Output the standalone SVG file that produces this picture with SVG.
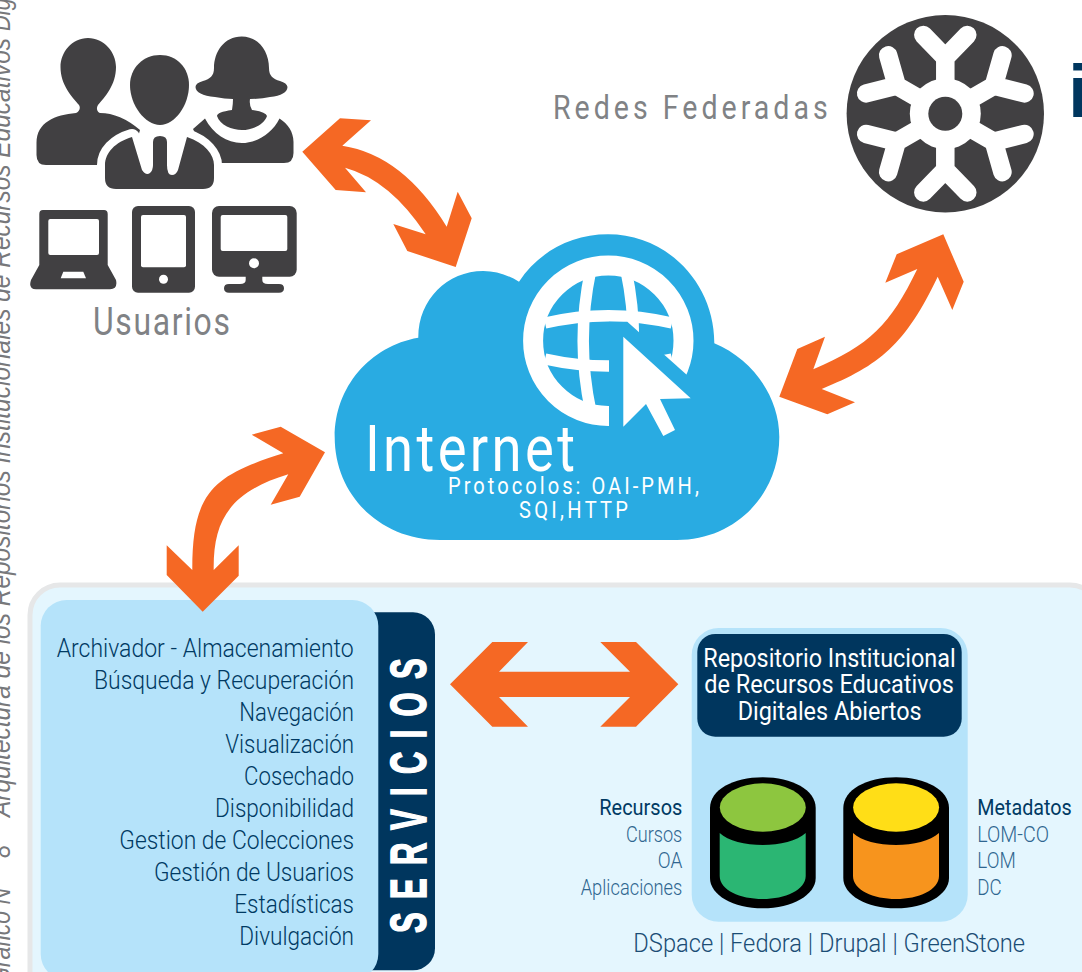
<svg xmlns="http://www.w3.org/2000/svg" xmlns:xlink="http://www.w3.org/1999/xlink" width="1082" height="972" viewBox="0 0 1082 972">
<style>
text{font-family:"Roboto","Liberation Sans",sans-serif;font-weight:300}
.cap{font-family:"Liberation Sans",sans-serif;font-weight:400;font-style:italic;font-size:27px;fill:#77787b}
.ic{fill:#414042}
.hole{fill:#fff}
.gr{fill:#808285;font-weight:400}
.nv{fill:#003a63}
.sub{fill:#2f6690;font-size:22px;font-weight:300}
.svc{font-size:26px;fill:#003a63}
.wh{fill:#fff}
.pale{fill:#b5e3fa}
.navy{fill:#00365e}
#connectors{fill:#f56824}
</style>
<defs>
<g id="arm"><path d="M0,0V-56M-22,-78.7L0,-56L22,-78.7" fill="none" stroke="#fff" stroke-width="18.5" stroke-linecap="round" stroke-linejoin="miter"/></g>
<g id="cyl">
<path d="M710,808C710,790 733,777.3 762.8,777.3C792,777.3 815.7,790 815.7,808V878C815.7,895 792,908.3 762.8,908.3C733,908.3 710,895 710,878Z" fill="#000"/>
</g>
<path id="cylbody" d="M719.7,833C728,841 745,845 762.8,845C780,845 797,841 805.7,833V876C805.7,890 785,899 762.8,899C740,899 719.7,890 719.7,876Z"/>
</defs>
<rect width="1082" height="972" fill="#fff"/>
<g id="caption">
<text class="cap" transform="translate(10,985) rotate(-90)" textLength="97" lengthAdjust="spacingAndGlyphs">Gráfico N</text>
<text class="cap" transform="translate(10,858) rotate(-90)" textLength="13" lengthAdjust="spacingAndGlyphs">8</text>
<text class="cap" transform="translate(10,817) rotate(-90)" textLength="779" lengthAdjust="spacingAndGlyphs">Arquitectura de los Repositorios Institucionales de Recursos Educativos</text>
<text class="cap" transform="translate(10,31) rotate(-90)" textLength="84" lengthAdjust="spacingAndGlyphs">Digitales</text>
</g>
<g id="panel">
<rect x="30" y="585" width="1070" height="420" rx="30" fill="#e4f6fe" stroke="#e6e7e8" stroke-width="5"/>
</g>
<g id="usuarios">
<path class="ic" d="M88,38C72,38 60.5,52 60.5,67C60.5,85 72,97 79,105C81,108 79,112 76,113C55,115 36.5,122 36.5,143V155Q36.5,165 46,165H130L140,130Q120,113 100,113C97,112 96,108 98,105C105,97 116,85 116,67C116,52 104,38 88,38Z"/>
<path class="ic" d="M241.7,36.5C224,36.5 214,52 214,68C214,76 210,79 203,81Q195.5,83 195.5,87Q196,95 215,97Q225,99 233,99Q233,104 232,110Q217,112 217,116C220,125 232,130 242,130C252,130 264,125 267,116Q266,112 252,110Q249,105 250,99Q262,99 270,97Q287,95 287.5,87Q287,83 280,81C273,79 269,76 269,68C269,52 259,36.5 241.7,36.5Z"/>
<path class="ic" d="M205,118.5C213,134 227,143 241.7,143C256,143 272,134 279.5,118.5C288,124 293.5,132 293.5,142V153Q293.5,163 284,163H210L193,129Z"/>
<path class="ic" d="M132,137L142,170Q146,176 150,173Q153,170 153,165V142Q153,136 160,136Q167,136 167,142V165Q167,175 172,175Q176,175 178,170L187,137C205,143 214,155 214,165V178Q214,189 203,189H116Q105,189 105,178V165C105,153 115,142 132,137Z" stroke="#fff" stroke-width="16" stroke-linejoin="round" style="paint-order:stroke"/>
<path class="ic" d="M160,55C143,55 130,68 130,85C130,105 145,125 160,125C175,125 189,105 189,85C189,68 177,55 160,55Z"/>
<path class="ic" d="M43,210H104Q107.7,210 107.7,214V265L116,280Q118,289 110,289.3H36Q28,289 31,280L39.3,265V214Q39.3,210 43,210Z"/>
<rect class="hole" x="48.3" y="219" width="50.7" height="36" rx="2"/>
<path class="hole" d="M60.7,278.3L63.3,271.7H83.3L86,278.3Z"/>
<rect class="ic" x="132" y="206" width="63" height="86.7" rx="6"/>
<rect class="hole" x="141" y="215" width="45" height="52.3" rx="2"/>
<circle class="hole" cx="163.5" cy="279.3" r="4.5"/>
<rect class="ic" x="212" y="206" width="84.7" height="70.7" rx="7"/>
<rect class="hole" x="220.7" y="215" width="66.6" height="36" rx="2"/>
<circle class="hole" cx="254" cy="263.3" r="5"/>
<path class="ic" d="M245.7,276V280Q245.7,284 240,284H229Q224,284 224,288.3Q224,292.7 229,292.7H279Q284,292.7 284,288.3Q284,284 279,284H268Q262.3,284 262.3,280V276Z"/>
<text class="gr" transform="translate(93,335) scale(.84,1)" font-size="38" textLength="163">Usuarios</text>
</g>
<g id="redes">
<text class="gr" transform="translate(553,119) scale(.84,1)" font-size="34" textLength="327">Redes Federadas</text>
<circle class="ic" cx="945.3" cy="113.7" r="98.7"/>
<circle cx="945.3" cy="113.7" r="35.5" fill="#fff"/>
<g transform="translate(945.3,113.7)">
<use xlink:href="#arm" href="#arm"/>
<use xlink:href="#arm" href="#arm" transform="rotate(60)"/>
<use xlink:href="#arm" href="#arm" transform="rotate(120)"/>
<use xlink:href="#arm" href="#arm" transform="rotate(180)"/>
<use xlink:href="#arm" href="#arm" transform="rotate(240)"/>
<use xlink:href="#arm" href="#arm" transform="rotate(300)"/>
</g>
<circle class="ic" cx="945.3" cy="113.7" r="17"/>
<text x="1068" y="117" font-size="75" fill="#00365e" style="font-family:'Liberation Sans',sans-serif;font-weight:700">i</text>
</g>
<g id="internet">
<path d="M440,540C380,540 334.7,495 334.7,437C334.7,387 370,346 418.3,337.7C418,300 447,271 483.3,271C496,271 508,275 519,281.7C538,253 570,234.3 608,234.3C667,234.3 714.5,283 714.3,343.3C752,359 779.3,396 779.3,437C779.3,495 735,540 677,540Z" fill="#29abe2"/>
<circle cx="608.3" cy="340.7" r="75.2" fill="none" stroke="#fff" stroke-width="20"/>
<g fill="none" stroke="#fff" stroke-width="11.5">
<path d="M590.7,270Q575.7,340.7 590.7,411"/>
<path d="M626,270Q641,340.7 626,411"/>
<path d="M545,323Q608.3,308.4 672,323"/>
<path d="M545,359Q608.3,373 672,359"/>
</g>
<path d="M609,450V321.7H627.3L697,384V450Z" fill="#29abe2"/>
<path d="M623.3,336.7L690.7,398.3L660,399L675,430L663.3,436L646,404L623.3,426.7Z" fill="#fff"/>
<text class="wh" transform="translate(365,470.7) scale(.85,1)" font-size="64" textLength="247" style="font-weight:400">Internet</text>
<text class="wh" transform="translate(448,494) scale(.82,1)" font-size="24.5" textLength="306" style="font-weight:400">Protocolos: OAI-PMH,</text>
<text class="wh" transform="translate(519,518) scale(.82,1)" font-size="24.5" textLength="133" style="font-weight:400">SQI,HTTP</text>
</g>
<g id="servicios">
<rect class="navy" x="300" y="612.3" width="135" height="358" rx="22"/>
<rect class="pale" x="40.7" y="600" width="337.6" height="380" rx="26"/>
<text class="svc" x="56.7" y="657" textLength="297" lengthAdjust="spacingAndGlyphs">Archivador - Almacenamiento</text>
<text class="svc" x="94" y="689" textLength="260" lengthAdjust="spacingAndGlyphs">Búsqueda y Recuperación</text>
<text class="svc" x="239.3" y="721" textLength="114.7" lengthAdjust="spacingAndGlyphs">Navegación</text>
<text class="svc" x="225.3" y="753" textLength="128.7" lengthAdjust="spacingAndGlyphs">Visualización</text>
<text class="svc" x="244" y="785" textLength="110" lengthAdjust="spacingAndGlyphs">Cosechado</text>
<text class="svc" x="215" y="817" textLength="139" lengthAdjust="spacingAndGlyphs">Disponibilidad</text>
<text class="svc" x="119.3" y="849" textLength="234.7" lengthAdjust="spacingAndGlyphs">Gestion de Colecciones</text>
<text class="svc" x="154" y="881" textLength="200" lengthAdjust="spacingAndGlyphs">Gestión de Usuarios</text>
<text class="svc" x="234.3" y="913" textLength="119.7" lengthAdjust="spacingAndGlyphs">Estadísticas</text>
<text class="svc" x="239.3" y="945" textLength="114.7" lengthAdjust="spacingAndGlyphs">Divulgación</text>
<text class="wh" transform="translate(426,933) rotate(-90) scale(.62,1)" font-size="50" textLength="443" stroke="#fff" stroke-width="1.6" style="font-family:'Liberation Sans',sans-serif;font-weight:700">SERVICIOS</text>
</g>
<g id="repositorio">
<rect class="pale" x="691.7" y="628" width="276" height="293.7" rx="27"/>
<rect class="navy" x="697.3" y="634" width="264.4" height="102.7" rx="18"/>
<text class="wh" x="703.3" y="666.7" font-size="25" style="font-weight:400" textLength="252.4" lengthAdjust="spacingAndGlyphs">Repositorio Institucional</text>
<text class="wh" x="704.3" y="693" font-size="25" style="font-weight:400" textLength="249.7" lengthAdjust="spacingAndGlyphs">de Recursos Educativos</text>
<text class="wh" x="737.7" y="720" font-size="25" style="font-weight:400" textLength="184" lengthAdjust="spacingAndGlyphs">Digitales Abiertos</text>
<use xlink:href="#cyl" href="#cyl"/>
<ellipse cx="762.8" cy="807.5" rx="43" ry="24.2" fill="#8dc63f"/>
<use xlink:href="#cylbody" href="#cylbody" fill="#2bb673"/>
<g transform="translate(133.3,0)">
<use xlink:href="#cyl" href="#cyl"/>
<ellipse cx="762.8" cy="807.5" rx="43" ry="24.2" fill="#ffde17"/>
<use xlink:href="#cylbody" href="#cylbody" fill="#f7941d"/>
</g>
<text class="nv" x="599.3" y="815" font-size="22" style="font-weight:400" textLength="83" lengthAdjust="spacingAndGlyphs">Recursos</text>
<text class="sub" x="626" y="841.7" textLength="56.3" lengthAdjust="spacingAndGlyphs">Cursos</text>
<text class="sub" x="657.7" y="868.3" textLength="24.6" lengthAdjust="spacingAndGlyphs">OA</text>
<text class="sub" x="580.7" y="895" textLength="101.6" lengthAdjust="spacingAndGlyphs">Aplicaciones</text>
<text class="nv" x="977.3" y="815" font-size="22" style="font-weight:400" textLength="94.4" lengthAdjust="spacingAndGlyphs">Metadatos</text>
<text class="sub" x="977.3" y="841.7" textLength="71.7" lengthAdjust="spacingAndGlyphs">LOM-CO</text>
<text class="sub" x="977.3" y="868.3" textLength="38.4" lengthAdjust="spacingAndGlyphs">LOM</text>
<text class="sub" x="977.3" y="895" textLength="24.4" lengthAdjust="spacingAndGlyphs">DC</text>
<text x="633.3" y="952.3" font-size="25" fill="#1b4d75" textLength="391.7" lengthAdjust="spacingAndGlyphs">DSpace | Fedora | Drupal | GreenStone</text>
</g>
<g id="connectors">
<path d="M302.3,151.7L340,118.3L371,120.3L342.3,145.7Q403,155 446.7,226.7L457.7,191.7L471.7,218.3L455.7,267L407.3,251L393.3,224L425.7,234.3Q390,180 345,167.7L366,192.3L335.7,190Z"/>
<path d="M943.3,234.3L963.7,281.7L952.3,310L937.7,276.7C905,345 880,365 821.7,389L855,402.3L827.3,414.3L779.3,396.7L797.3,349L825,336.7L813.3,369.3C870,345 890,325 917.3,269L885.3,282.7L896.7,254.3Z"/>
<path d="M325,452.3L299.7,496.7L270.7,504.7L288.3,474.3C230,492 213,520 213.7,570L238.7,545.3V575.7L202.7,611.7L166.7,575V545.3L192.3,570C192,490 215,475 283.3,453.3L251.7,434.7L280.7,426.7Z"/>
<path d="M450,684.3L492.3,642H528L499,671.7H630L600.3,642H636L678.3,684.3L636,726.7H600.3L630,697H499L528,726.7H492.3Z"/>
</g>
</svg>
